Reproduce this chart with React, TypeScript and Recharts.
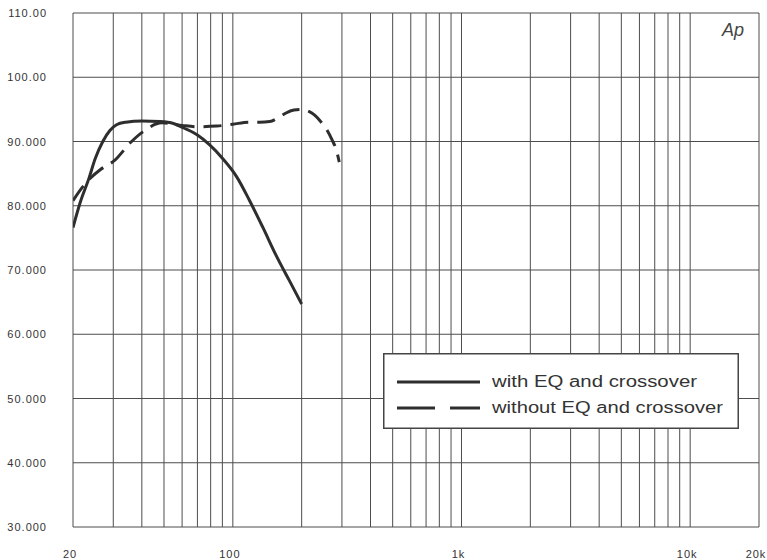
import React from "react";
import { LineChart, Line, XAxis, YAxis, CartesianGrid, Legend } from "recharts";

// frequency grid (Hz) and level grid (dB)
const gridFreqs = [
  20, 30, 40, 50, 60, 70, 80, 90, 100,
  200, 300, 400, 500, 600, 700, 800, 900, 1000,
  2000, 3000, 4000, 5000, 6000, 7000, 8000, 9000, 10000, 20000,
];
const xLabelFreqs = [20, 100, 1000, 10000, 20000];
const xLabelTexts = ["20", "100", "1k", "10k", "20k"];
const levelTicks = [30, 40, 50, 60, 70, 80, 90, 100, 110];
const levelLabels = ["30.000", "40.000", "50.000", "60.000", "70.000", "80.000", "90.000", "100.00", "110.00"];

// with EQ and crossover
const eqFreq = [20, 21.5, 23.5, 25, 27, 29, 31, 34, 40, 48, 55, 61, 70, 79, 90, 104, 118, 135, 155, 177, 200];
const eqLevel = [76.6, 80.5, 84.3, 87.3, 90.0, 91.7, 92.6, 93.0, 93.2, 93.1, 92.8, 92.1, 91.0, 89.5, 87.4, 84.5, 80.9, 76.7, 72.2, 68.3, 64.7];

// without EQ and crossover
const rawFreq = [20, 22, 24, 26.3, 30.5, 35.6, 40.4, 49, 60, 70, 85, 100, 118, 131, 145, 158, 170, 185, 200, 215, 228, 245, 258, 272, 284, 292];
const rawLevel = [80.8, 82.9, 84.4, 85.6, 87.1, 89.8, 91.5, 92.9, 92.5, 92.3, 92.4, 92.7, 93.0, 93.0, 93.1, 93.7, 94.4, 94.9, 95.0, 94.7, 94.1, 92.9, 91.8, 90.2, 88.6, 86.8];

const eqData = eqFreq.map((f, i) => ({ f, v: eqLevel[i] }));
const rawData = rawFreq.map((f, i) => ({ f, v: rawLevel[i] }));

const ink = "#2e2e2e";
const gridInk = "#4d4d4d";
const font = "'Liberation Sans', Arial, sans-serif";

const XTick = (props: any) => {
  const { x, y, payload } = props;
  const idx = xLabelFreqs.indexOf(payload.value);
  if (idx < 0) return null;
  return (
    <text x={x - 3} y={y + 31} textAnchor="middle" fontSize={11} letterSpacing={1} fill="#333" fontFamily={font}>
      {xLabelTexts[idx]}
    </text>
  );
};

const YTick = (props: any) => {
  const { x, y, payload } = props;
  const idx = levelTicks.indexOf(payload.value);
  return (
    <text x={x - 26} y={y + 4} textAnchor="end" fontSize={11} letterSpacing={1} fill="#333" fontFamily={font}>
      {levelLabels[idx]}
    </text>
  );
};

const LegendBox = () => (
  <svg width={356} height={76} style={{ display: "block" }}>
    <rect x={0.75} y={0.75} width={354.5} height={74.5} fill="#fff" stroke="#444" strokeWidth={1.5} />
    <line x1={14} y1={29} x2={97} y2={29} stroke={ink} strokeWidth={3} />
    <line x1={14} y1={55} x2={97} y2={55} stroke={ink} strokeWidth={3} strokeDasharray="38 15" />
    <text x={109} y={34} fontSize={16} fill="#333" fontFamily={font} textLength={205} lengthAdjust="spacingAndGlyphs">
      with EQ and crossover
    </text>
    <text x={109} y={60} fontSize={16} fill="#333" fontFamily={font} textLength={231} lengthAdjust="spacingAndGlyphs">
      without EQ and crossover
    </text>
  </svg>
);

export default function App() {
  return (
    <div style={{ position: "absolute", left: 0, top: 0, width: 767, height: 560, background: "#fff" }}>
      <LineChart width={767} height={560} margin={{ top: 13, right: 8, bottom: 0, left: 0 }}>
        <CartesianGrid stroke={gridInk} strokeWidth={1} />
        <XAxis
          dataKey="f"
          type="number"
          scale="log"
          domain={[20, 20000]}
          ticks={gridFreqs}
          interval={0}
          tick={<XTick />}
          tickLine={false}
          axisLine={false}
          tickSize={0}
          tickMargin={0}
          height={33}
          allowDataOverflow
        />
        <YAxis
          type="number"
          domain={[30, 110]}
          ticks={levelTicks}
          interval={0}
          tick={<YTick />}
          tickLine={false}
          axisLine={false}
          tickSize={0}
          tickMargin={0}
          width={73}
        />
        <Legend
          layout="vertical"
          align="center"
          verticalAlign="middle"
          content={<LegendBox />}
          wrapperStyle={{ left: 383, top: 353, width: 356, height: 76 }}
        />
        <Line data={eqData} dataKey="v" type="monotone" stroke={ink} strokeWidth={3} dot={false} isAnimationActive={false} />
        <Line data={rawData} dataKey="v" type="monotone" stroke={ink} strokeWidth={3} strokeDasharray="18 9" dot={false} isAnimationActive={false} />
      </LineChart>
      <div
        style={{
          position: "absolute",
          left: 722,
          top: 20,
          fontFamily: font,
          fontStyle: "italic",
          fontSize: 18,
          color: "#444",
          pointerEvents: "none",
        }}
      >
        Ap
      </div>
    </div>
  );
}
